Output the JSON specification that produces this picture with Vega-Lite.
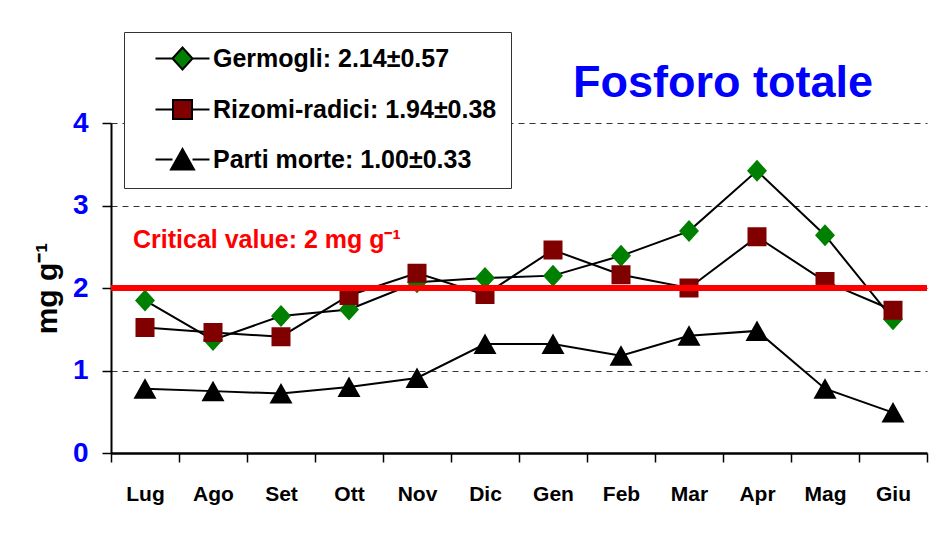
{
  "$schema": "https://vega.github.io/schema/vega-lite/v6.json",
  "width": 816,
  "height": 330,
  "autosize": {"type": "none"},
  "padding": {"left": 111, "top": 123, "right": 3, "bottom": 85},
  "background": "white",
  "title": {
    "text": "Fosforo totale",
    "color": "#0000FF",
    "fontSize": 45,
    "fontWeight": "bold",
    "font": "Liberation Sans",
    "anchor": "start",
    "frame": "group",
    "dx": 462,
    "dy": 136,
    "offset": 26,
    "baseline": "alphabetic"
  },
  "config": {"view": {"stroke": null}, "font": "Liberation Sans"},
  "datasets": {
    "series": [
      {"month": "Lug", "series": "Germogli: 2.14±0.57", "value": 1.85},
      {"month": "Ago", "series": "Germogli: 2.14±0.57", "value": 1.37},
      {"month": "Set", "series": "Germogli: 2.14±0.57", "value": 1.66},
      {"month": "Ott", "series": "Germogli: 2.14±0.57", "value": 1.74},
      {"month": "Nov", "series": "Germogli: 2.14±0.57", "value": 2.07},
      {"month": "Dic", "series": "Germogli: 2.14±0.57", "value": 2.12},
      {"month": "Gen", "series": "Germogli: 2.14±0.57", "value": 2.15},
      {"month": "Feb", "series": "Germogli: 2.14±0.57", "value": 2.39},
      {"month": "Mar", "series": "Germogli: 2.14±0.57", "value": 2.69},
      {"month": "Apr", "series": "Germogli: 2.14±0.57", "value": 3.42},
      {"month": "Mag", "series": "Germogli: 2.14±0.57", "value": 2.64},
      {"month": "Giu", "series": "Germogli: 2.14±0.57", "value": 1.62},
      {"month": "Lug", "series": "Rizomi-radici: 1.94±0.38", "value": 1.52},
      {"month": "Ago", "series": "Rizomi-radici: 1.94±0.38", "value": 1.46},
      {"month": "Set", "series": "Rizomi-radici: 1.94±0.38", "value": 1.41},
      {"month": "Ott", "series": "Rizomi-radici: 1.94±0.38", "value": 1.91},
      {"month": "Nov", "series": "Rizomi-radici: 1.94±0.38", "value": 2.18},
      {"month": "Dic", "series": "Rizomi-radici: 1.94±0.38", "value": 1.92},
      {"month": "Gen", "series": "Rizomi-radici: 1.94±0.38", "value": 2.46},
      {"month": "Feb", "series": "Rizomi-radici: 1.94±0.38", "value": 2.16},
      {"month": "Mar", "series": "Rizomi-radici: 1.94±0.38", "value": 2.00},
      {"month": "Apr", "series": "Rizomi-radici: 1.94±0.38", "value": 2.62},
      {"month": "Mag", "series": "Rizomi-radici: 1.94±0.38", "value": 2.08},
      {"month": "Giu", "series": "Rizomi-radici: 1.94±0.38", "value": 1.73},
      {"month": "Lug", "series": "Parti morte: 1.00±0.33", "value": 0.78},
      {"month": "Ago", "series": "Parti morte: 1.00±0.33", "value": 0.75},
      {"month": "Set", "series": "Parti morte: 1.00±0.33", "value": 0.72},
      {"month": "Ott", "series": "Parti morte: 1.00±0.33", "value": 0.80},
      {"month": "Nov", "series": "Parti morte: 1.00±0.33", "value": 0.91},
      {"month": "Dic", "series": "Parti morte: 1.00±0.33", "value": 1.32},
      {"month": "Gen", "series": "Parti morte: 1.00±0.33", "value": 1.32},
      {"month": "Feb", "series": "Parti morte: 1.00±0.33", "value": 1.18},
      {"month": "Mar", "series": "Parti morte: 1.00±0.33", "value": 1.42},
      {"month": "Apr", "series": "Parti morte: 1.00±0.33", "value": 1.48},
      {"month": "Mag", "series": "Parti morte: 1.00±0.33", "value": 0.78},
      {"month": "Giu", "series": "Parti morte: 1.00±0.33", "value": 0.49}
    ]
  },
  "layer": [
    {
      "data": {"name": "series"},
      "mark": {"type": "line", "color": "black", "strokeWidth": 2},
      "encoding": {
        "x": {
          "field": "month", "type": "nominal",
          "sort": ["Lug","Ago","Set","Ott","Nov","Dic","Gen","Feb","Mar","Apr","Mag","Giu"],
          "scale": {"type": "band", "paddingInner": 0, "paddingOuter": 0},
          "axis": {
            "title": null, "labelAngle": 0,
            "labelFont": "Liberation Sans", "labelFontSize": 21, "labelFontWeight": "bold", "labelColor": "black",
            "labelPadding": 21, "tickBand": "extent", "tickSize": 9, "tickColor": "black", "tickWidth": 1.5,
            "domainColor": "black", "domainWidth": 2.5, "grid": false
          }
        },
        "y": {
          "field": "value", "type": "quantitative",
          "scale": {"domain": [0, 4], "nice": false},
          "axis": {
            "title": "mg g⁻¹", "titleFontSize": 30, "titleFontWeight": "bold", "titleColor": "black", "titlePadding": 10,
            "values": [0, 1, 2, 3, 4], "format": "d",
            "labelColor": "#0000FF", "labelFontSize": 28, "labelFontWeight": "bold", "labelPadding": 14,
            "tickSize": 9, "tickColor": "black", "tickWidth": 1.5,
            "domainColor": "black", "domainWidth": 2,
            "grid": true, "gridDash": [6, 5], "gridColor": "#333333", "gridWidth": 1
          }
        },
        "detail": {"field": "series"}
      }
    },
    {
      "data": {"name": "series"},
      "mark": {"type": "point", "filled": true, "opacity": 1, "size": 400, "strokeWidth": 0},
      "encoding": {
        "x": {
          "field": "month", "type": "nominal",
          "sort": ["Lug","Ago","Set","Ott","Nov","Dic","Gen","Feb","Mar","Apr","Mag","Giu"]
        },
        "y": {"field": "value", "type": "quantitative"},
        "color": {
          "field": "series", "type": "nominal",
          "scale": {
            "domain": ["Germogli: 2.14±0.57", "Rizomi-radici: 1.94±0.38", "Parti morte: 1.00±0.33"],
            "range": ["#008000", "#800000", "#000000"]
          },
          "legend": {
            "orient": "none", "legendX": 13, "legendY": -91, "title": null,
            "strokeColor": "#333333", "fillColor": "white", "padding": 14,
            "symbolSize": 400, "symbolStrokeColor": "black", "symbolStrokeWidth": 2,
            "symbolOffset": 32, "labelOffset": 18,
            "labelFont": "Liberation Sans", "labelFontSize": 25, "labelFontWeight": "bold",
            "rowPadding": 22, "labelLimit": 0,
            "encode": {"labels": {"update": {"fill": {"signal": "scale('color', datum.value)"}}}}
          }
        },
        "shape": {
          "field": "series", "type": "nominal",
          "scale": {
            "domain": ["Germogli: 2.14±0.57", "Rizomi-radici: 1.94±0.38", "Parti morte: 1.00±0.33"],
            "range": [
              "M-2.7,0H-1M1,0H2.7M-1,0L0,-1.1L1,0L0,1.1Z",
              "M-2.7,0H-0.95M0.95,0H2.7M-0.95,-0.95H0.95V0.95H-0.95Z",
              "M-2.7,0H-1M1,0H2.7M0,-1.05L1.15,1L-1.15,1Z"
            ]
          }
        }
      }
    },
    {
      "data": {"values": [{"value": 2}]},
      "mark": {"type": "rule", "color": "#FF0000", "strokeWidth": 6},
      "encoding": {"y": {"field": "value", "type": "quantitative"}}
    },
    {
      "data": {"values": [{"month": "Lug", "value": 2, "label": "Critical value: 2 mg g⁻¹"}]},
      "mark": {
        "type": "text", "align": "left", "baseline": "alphabetic", "dx": -12, "dy": -40,
        "font": "Liberation Sans", "fontSize": 25, "fontWeight": "bold", "color": "#FF0000"
      },
      "encoding": {
        "x": {"field": "month", "type": "nominal", "sort": ["Lug","Ago","Set","Ott","Nov","Dic","Gen","Feb","Mar","Apr","Mag","Giu"]},
        "y": {"field": "value", "type": "quantitative"},
        "text": {"field": "label"}
      }
    }
  ]
}
